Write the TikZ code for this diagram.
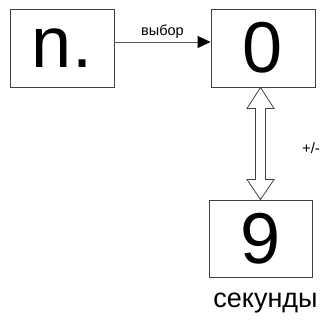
\documentclass[tikz,border=0pt]{standalone}
\usepackage{fontspec}
\setmainfont{Liberation Sans}
\usetikzlibrary{arrows.meta,calc}
\begin{document}
\begin{tikzpicture}[x=1pt,y=-1pt,
  bigbox/.style={draw=black!75,line width=0.9pt,minimum width=104pt,minimum height=78pt,inner sep=0pt,font=\fontsize{72}{72}\selectfont},
  lbl/.style={inner sep=0pt}]
\useasboundingbox (0,0) rectangle (323,320);
\node[bigbox] (n) at (62,48) {n.};
\node[bigbox] (z) at (263,48) {0};
\node[bigbox,minimum width=103pt,minimum height=77pt] (nine) at (260.5,238.5) {9};
\draw[black!65,line width=0.9pt,-{Triangle[length=13pt,width=12pt,fill=black,color=black]}] (n.east |- 0,42) -- (z.west |- 0,42) node[midway,above=3pt,lbl,text=black,font=\fontsize{14.5}{14.5}\selectfont] (sel) {выбор};
\coordinate (t) at (z.south -| 260.5,0);
\coordinate (b) at (nine.north -| 260.5,0);
\draw[black!75,line width=0.8pt,fill=white] (t) -- ++(-13.5,21) -- ++(8.5,0) -- ($(b)+(-5,-20)$) -- ++(-8.5,0) -- (b) -- ++(13.5,-20) -- ++(-8.5,0) -- ($(t)+(5,21)$) -- ++(8.5,0) -- cycle;
\node[lbl,font=\fontsize{15}{15}\selectfont] (pm) at (311,148) {+/-};
\node[lbl,font=\fontsize{27}{27}\selectfont] (sec) at (265.5,303) {секунды};
\end{tikzpicture}
\end{document}
